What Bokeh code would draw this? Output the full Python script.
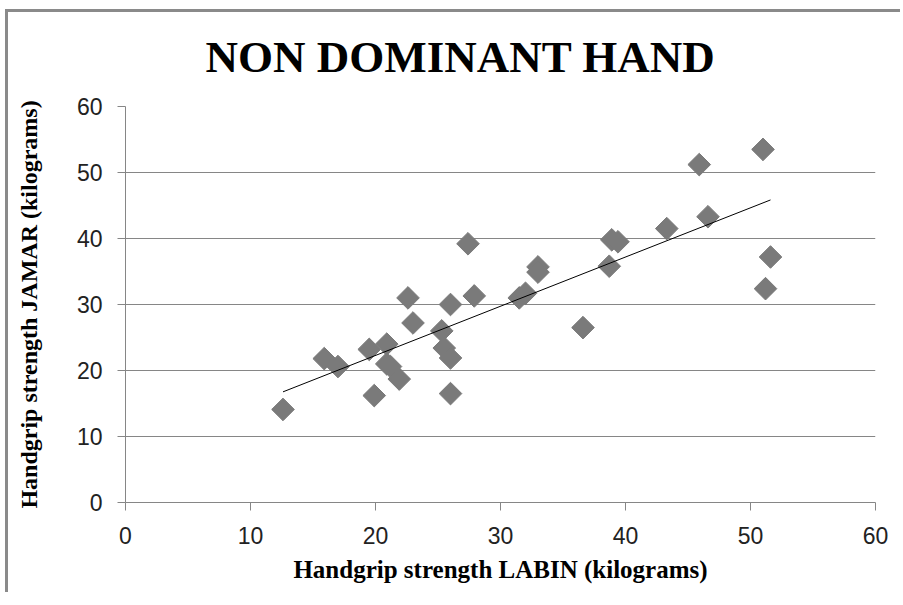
import numpy as np
from bokeh.plotting import figure
from bokeh.models import Range1d, FixedTicker
from bokeh.embed import file_html
from bokeh.resources import INLINE

# ---- data ----
labin = [12.6, 15.9, 17.0, 19.5, 19.9, 20.9, 20.9, 21.2, 21.9, 22.6, 23.0,
         25.3, 25.5, 26.0, 26.0, 26.0, 27.4, 27.9, 31.5, 32.0, 33.0, 33.0,
         36.6, 38.7, 38.9, 39.4, 43.3, 45.9, 46.6, 51.0, 51.2, 51.6]
jamar = [14.1, 21.8, 20.6, 23.2, 16.2, 24.0, 21.0, 20.6, 18.7, 31.0, 27.2,
         26.0, 23.4, 21.9, 16.5, 30.0, 39.2, 31.3, 31.0, 31.7, 35.7, 34.9,
         26.5, 35.8, 39.8, 39.5, 41.5, 51.2, 43.3, 53.5, 32.4, 37.2]
x_ticks = [0, 10, 20, 30, 40, 50, 60]
y_ticks = [0, 10, 20, 30, 40, 50, 60]
grid_ticks = [10, 20, 30, 40, 50]
title_text = "NON DOMINANT HAND"
x_label = "Handgrip strength LABIN (kilograms)"
y_label = "Handgrip strength JAMAR (kilograms)"

GRAY = "#868686"

p = figure(frame_width=750, frame_height=396,
           min_border_left=125, min_border_right=25,
           min_border_top=106, min_border_bottom=90,
           x_range=Range1d(0, 60), y_range=Range1d(0, 60),
           output_backend="svg", toolbar_location=None)

# chart-area border (left and top) drawn as CSS background behind a transparent border fill
p.border_fill_color = None
p.background_fill_color = "white"
p.styles = {
    "background": ("linear-gradient(#8a8a8a, #8a8a8a) 5px 9px / 100% 3px no-repeat, "
                   "linear-gradient(#8a8a8a, #8a8a8a) 5px 9px / 3px 100% no-repeat, white"),
}

p.title.text = title_text
p.title.text_font = "Liberation Serif"
p.title.text_font_size = "45px"
p.title.text_font_style = "bold"
p.title.text_color = "black"
p.title.align = "left"
p.title.offset = 80
p.title.standoff = 50

p.outline_line_color = None
p.xgrid.visible = False
p.ygrid.ticker = FixedTicker(ticks=grid_ticks)
p.ygrid.grid_line_color = GRAY
p.ygrid.grid_line_width = 1

for ax in (p.xaxis[0], p.yaxis[0]):
    ax.axis_line_color = GRAY
    ax.major_tick_line_color = GRAY
    ax.minor_tick_line_color = None
    ax.major_tick_in = 0
    ax.major_tick_out = 8
    ax.major_label_text_font = "Liberation Sans"
    ax.major_label_text_font_size = "23px"
    ax.major_label_text_color = "#222222"
    ax.axis_label_text_font = "Liberation Serif"
    ax.axis_label_text_font_style = "bold"
    ax.axis_label_text_color = "black"

p.xaxis.axis_label_text_font_size = "25px"
p.yaxis.axis_label_text_font_size = "24px"
p.xaxis.ticker = FixedTicker(ticks=x_ticks)
p.yaxis.ticker = FixedTicker(ticks=y_ticks)
p.xaxis.axis_label = x_label
p.yaxis.axis_label = y_label
p.xaxis.major_label_standoff = 16
p.xaxis.axis_label_standoff = 9
p.yaxis.major_label_standoff = 15
p.yaxis.axis_label_standoff = 32
p.yaxis.major_label_orientation = "horizontal"

p.scatter(labin, jamar, marker="square", angle=np.pi / 4, size=16,
          fill_color="#7a7a7a", line_color="#7a7a7a")

slope, intercept = np.polyfit(labin, jamar, 1)
tx = [min(labin), max(labin)]
ty = [slope * v + intercept for v in tx]
p.line(tx, ty, line_color="black", line_width=1)

open("out.html", "w").write(file_html(p, INLINE))
